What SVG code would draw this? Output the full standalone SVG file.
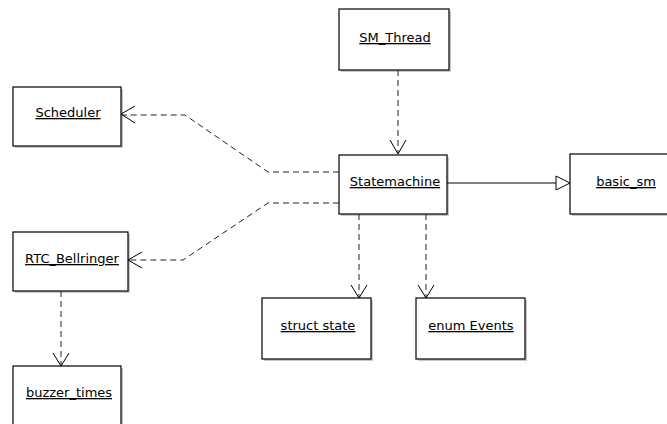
<svg xmlns="http://www.w3.org/2000/svg" width="667" height="424" viewBox="0 0 667 424">
<style>
.box{fill:#fff;stroke:#000;stroke-width:1.2}
.shadow{fill:#c8c8c8}
.lbl{font-family:"DejaVu Sans","Liberation Sans",Arial,sans-serif;font-size:13px;fill:#000;text-anchor:middle;text-decoration:underline}
.dash{fill:none;stroke:#222;stroke-width:1;stroke-dasharray:6,4}
.solid{fill:none;stroke:#000;stroke-width:1}
.head{fill:none;stroke:#000;stroke-width:1}
</style>
<rect width="667" height="424" fill="#fff"/>
<g id="SM_Thread">
<rect class="shadow" x="341" y="11" width="110" height="61"/>
<rect class="box" x="339" y="9" width="110" height="61"/>
<text class="lbl" x="395" y="42">SM_Thread</text>
</g>
<g id="Scheduler">
<rect class="shadow" x="15" y="89" width="108" height="59"/>
<rect class="box" x="13" y="87" width="108" height="59"/>
<text class="lbl" x="68" y="117">Scheduler</text>
</g>
<g id="Statemachine">
<rect class="shadow" x="341" y="157" width="108" height="59"/>
<rect class="box" x="339" y="155" width="108" height="59"/>
<text class="lbl" x="395" y="186">Statemachine</text>
</g>
<g id="basic_sm">
<rect class="shadow" x="572" y="156" width="110" height="60"/>
<rect class="box" x="570" y="154" width="110" height="60"/>
<text class="lbl" x="626" y="186">basic_sm</text>
</g>
<g id="RTC_Bellringer">
<rect class="shadow" x="15" y="234" width="115" height="59"/>
<rect class="box" x="13" y="232" width="115" height="59"/>
<text class="lbl" x="72" y="263">RTC_Bellringer</text>
</g>
<g id="struct_state">
<rect class="shadow" x="264" y="300" width="109" height="61"/>
<rect class="box" x="262" y="298" width="109" height="61"/>
<text class="lbl" x="318" y="330">struct state</text>
</g>
<g id="enum_Events">
<rect class="shadow" x="418" y="300" width="109" height="61"/>
<rect class="box" x="416" y="298" width="109" height="61"/>
<text class="lbl" x="471" y="330">enum Events</text>
</g>
<g id="buzzer_times">
<rect class="shadow" x="15" y="368" width="108" height="70"/>
<rect class="box" x="13" y="366" width="108" height="70"/>
<text class="lbl" x="69" y="397">buzzer_times</text>
</g>
<g id="connectors">
<path class="dash" d="M398 70 V153"/>
<path class="head" d="M390 140 L398 154 L406 140"/>
<path class="dash" d="M339 172 H268 L185 115 H122"/>
<path class="head" d="M135 106 L121 114 L135 123"/>
<path class="dash" d="M339 203 H268 L183 260 H129"/>
<path class="head" d="M142 252 L128 260 L142 268"/>
<path class="dash" d="M359 214 V297"/>
<path class="head" d="M351 285 L359 298 L367 285"/>
<path class="dash" d="M426 214 V297"/>
<path class="head" d="M418 285 L426 298 L434 285"/>
<path class="dash" d="M61 291 V365"/>
<path class="head" d="M53 353 L61 366 L69 353"/>
<path class="solid" d="M447 183 H556"/>
<path class="head" d="M556 176 L570 183 L556 190 Z"/>
</g>
</svg>
